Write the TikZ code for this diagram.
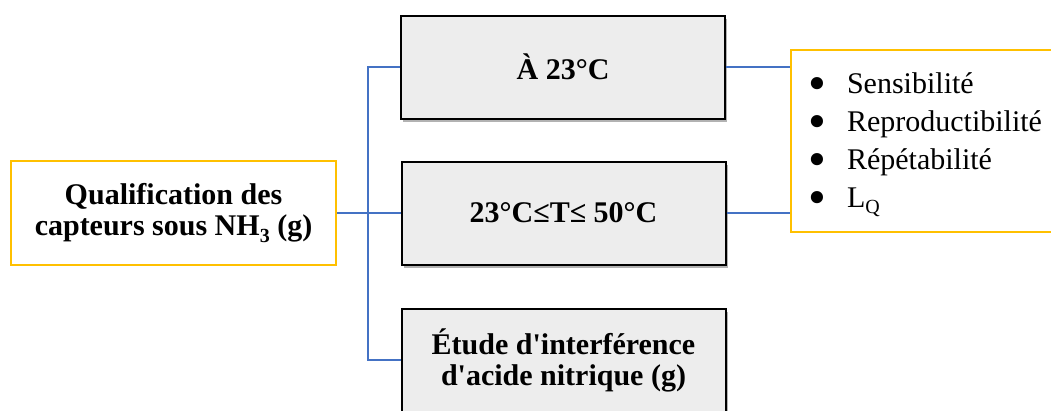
\documentclass[tikz,border=0pt]{standalone}
\usepackage{fontspec}
\setmainfont{Liberation Serif}
\usetikzlibrary{shadows}
\definecolor{boxgray}{HTML}{EDEDED}
\definecolor{ylw}{HTML}{FFC000}
\definecolor{lnblue}{HTML}{4472C4}
\newcommand{\subsc}[1]{\raisebox{-0.22em}{\fontsize{20}{20}\selectfont #1}}
\newcommand{\bul}{\raisebox{-0.25em}[0.45em][0pt]{\scalebox{1.7}{\textbullet}}}
\newcommand{\apos}{\XeTeXglyph\XeTeXcharglyph"0027\relax}
\begin{document}
\begin{tikzpicture}[x=1pt,y=-1pt,
  graybox/.style={draw=black,line width=2pt,fill=boxgray,minimum width=324pt,minimum height=103pt,
    inner sep=0pt,align=center,font=\fontsize{30}{31}\selectfont\bfseries,
    drop shadow={shadow xshift=2pt,shadow yshift=-3pt,fill=black,opacity=0.3}},
  ylwbox/.style={draw=ylw,line width=2pt,fill=white,inner sep=0pt},
  conn/.style={draw=lnblue,line width=2pt}]
\useasboundingbox (0,0) rectangle (1051,410);
% left box
\node[ylwbox,minimum width=325pt,minimum height=104pt,align=center,
  font=\fontsize{30}{31}\selectfont\bfseries] (q) at (173.5,213)
  {Qualification des\\capteurs sous NH\subsc{3} (g)};
% grey boxes
\node[graybox] (b1) at (563,67) {À 23°C};
\node[graybox] (b2) at (563.5,213) {23°C≤T≤ 50°C};
\node[graybox] (b3) at (563.5,360) {Étude d\apos interférence\\d\apos acide nitrique (g)};
% right box
\node[ylwbox,minimum width=270pt,minimum height=182pt] (r) at (926,141) {};
\node[anchor=base west,inner sep=0pt,font=\fontsize{30}{38}\selectfont] (rt) at (808,93)
  {\begin{tabular}[t]{@{}l@{\hspace{21pt}}l@{}}
   \bul & Sensibilité\\
   \bul & Reproductibilité\\
   \bul & Répétabilité\\
   \bul & L\subsc{Q}
  \end{tabular}};
% connectors
\coordinate (spine) at (368,0);
\draw[conn] (q.east) -- (b2.west);
\draw[conn] (b1.west) -- (b1.west -| spine) |- (b3.west);
\draw[conn] (b1.east) -- (b1.east -| r.west);
\draw[conn] (b2.east) -- (b2.east -| r.west);
\end{tikzpicture}
\end{document}
